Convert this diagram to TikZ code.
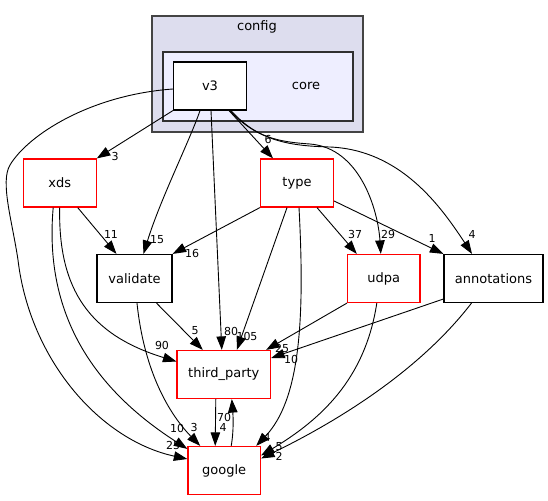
\documentclass[tikz,border=0pt]{standalone}
\usepackage{fontspec}
\setmainfont{DejaVu Sans}
\usepackage{xcolor}
\usepackage{tikz}
\usetikzlibrary{arrows.meta}
\definecolor{cfgfill}{HTML}{DDDDEE}
\definecolor{corefill}{HTML}{EEEEFF}
\definecolor{clusterline}{HTML}{444444}

\begin{document}
\begin{tikzpicture}[x=1pt,y=-1pt,
  dir/.style={draw=black, fill=white, line width=1.2pt, inner sep=0pt, minimum height=48, font=\fontsize{13}{15}\selectfont},
  reddir/.style={dir, draw=red},
  dep/.style={line width=0.9pt, -{Triangle[length=13.5pt,width=9.5pt]}},
  elabel/.style={inner sep=0pt, font=\fontsize{11}{12}\selectfont}]

\useasboundingbox (0,0) rectangle (548,500);

% clusters
\draw[draw=clusterline, line width=1.3pt, fill=cfgfill] (152,16) rectangle (363,132);
\node[font=\fontsize{13}{15}\selectfont] (config) at (257,27) {config};
\draw[draw=clusterline!70!black, line width=1.3pt, fill=corefill] (163,52) rectangle (353,121);
\node[font=\fontsize{13}{15}\selectfont] (core) at (306,86) {core};

% directories
\node[dir, minimum width=73] (v3) at (210,86) {v3};
\node[reddir, minimum width=73] (xds) at (59.7,183) {xds};
\node[reddir, minimum width=73] (type) at (297,183) {type};
\node[dir, minimum width=75] (validate) at (134.5,278.5) {validate};
\node[reddir, minimum width=72.5] (udpa) at (383.8,278.5) {udpa};
\node[dir, minimum width=99] (annotations) at (493.5,278.5) {annotations};
\node[reddir, minimum width=93.5] (third) at (223.8,374.5) {third\_party};
\node[reddir, minimum width=72.5] (google) at (224.2,470.5) {google};

% v3
\draw[dep] (v3.south west) -- (xds.north east);
\draw[dep] ([xshift=-10pt]v3.south) .. controls (190,140) and (160,200) .. ([xshift=9pt]validate.north);
\draw[dep] ([xshift=1pt]v3.south) -- ([xshift=-2pt]third.north);
\draw[dep] ([xshift=19pt]v3.south) -- ([xshift=-24pt]type.north);
\draw[dep] ([xshift=20pt]v3.south) .. controls (255,138) and (280,142) .. (310,144) .. controls (360,148) and (378,210) .. ([xshift=-3pt]udpa.north);
\draw[dep] ([xshift=21pt]v3.south) .. controls (258,141) and (290,146) .. (330,147) .. controls (400,150) and (440,205) .. ([xshift=-21.5pt]annotations.north);
\draw[dep] ([yshift=-3pt]v3.west) .. controls (90,95) and (28,135) .. (10,165) .. controls (0,182) and (12,220) .. (18,260) .. controls (30,360) and (100,440) .. ([yshift=11.5pt]google.west);

% xds
\draw[dep] ([xshift=18pt]xds.south) -- ([xshift=-18pt]validate.north);
\draw[dep] (xds.south) .. controls (58,290) and (90,335) .. ([yshift=13pt]third.west);
\draw[dep] ([xshift=-6.5pt]xds.south) .. controls (45,300) and (80,380) .. ([yshift=-3pt]google.north west);

% type
\draw[dep] (type.south west) -- (validate.north east);
\draw[dep] ([xshift=-10pt]type.south) -- ([xshift=13pt]third.north);
\draw[dep] ([xshift=2pt]type.south) .. controls (305,320) and (300,400) .. ([xshift=32pt]google.north);
\draw[dep] ([xshift=20pt]type.south) -- ([xshift=-27pt]udpa.north);
\draw[dep] ([yshift=-18pt]type.east) -- (annotations.north west);

% validate, udpa, annotations
\draw[dep] ([xshift=22pt]validate.south) -- ([xshift=-21pt]third.north);
\draw[dep] ([xshift=2.5pt]validate.south) .. controls (145,380) and (175,420) .. ([xshift=-24pt]google.north);
\draw[dep] (udpa.south west) -- ([xshift=-5pt]third.north east);
\draw[dep] ([xshift=-7pt]udpa.south) .. controls (365,380) and (320,420) .. ([yshift=15pt]google.east);
\draw[dep] ([yshift=-20.5pt]annotations.west) -- ([yshift=16.5pt]third.east);
\draw[dep] ([xshift=-22pt]annotations.south) .. controls (420,370) and (340,420) .. ([yshift=12pt]google.east);

% third_party <-> google
\draw[dep] ([xshift=-8pt]third.south) -- ([xshift=-9pt]google.north);
\draw[dep] ([xshift=7pt]google.north) .. controls (234,430) and (233,415) .. ([xshift=8pt]third.south);

% edge counts
\foreach \lx/\ly/\lt [count=\i] in {115/156/3, 157/240/15, 231/331/80, 268/139/6, 388/234/29, 472/234/4,
  173/445/25, 111/234/11, 162/345/90, 177/428/10, 192/253/16, 247/336/105, 267/437/4, 355/234/37,
  432/238/1, 195/331/5, 194/427/3, 282/348/25, 279/447/5, 291/359/10, 279/456/2, 223/427/4, 224/417/70}{
  \node[elabel] (lab\i) at (\lx,\ly) {\lt};
}

\end{tikzpicture}
\end{document}
